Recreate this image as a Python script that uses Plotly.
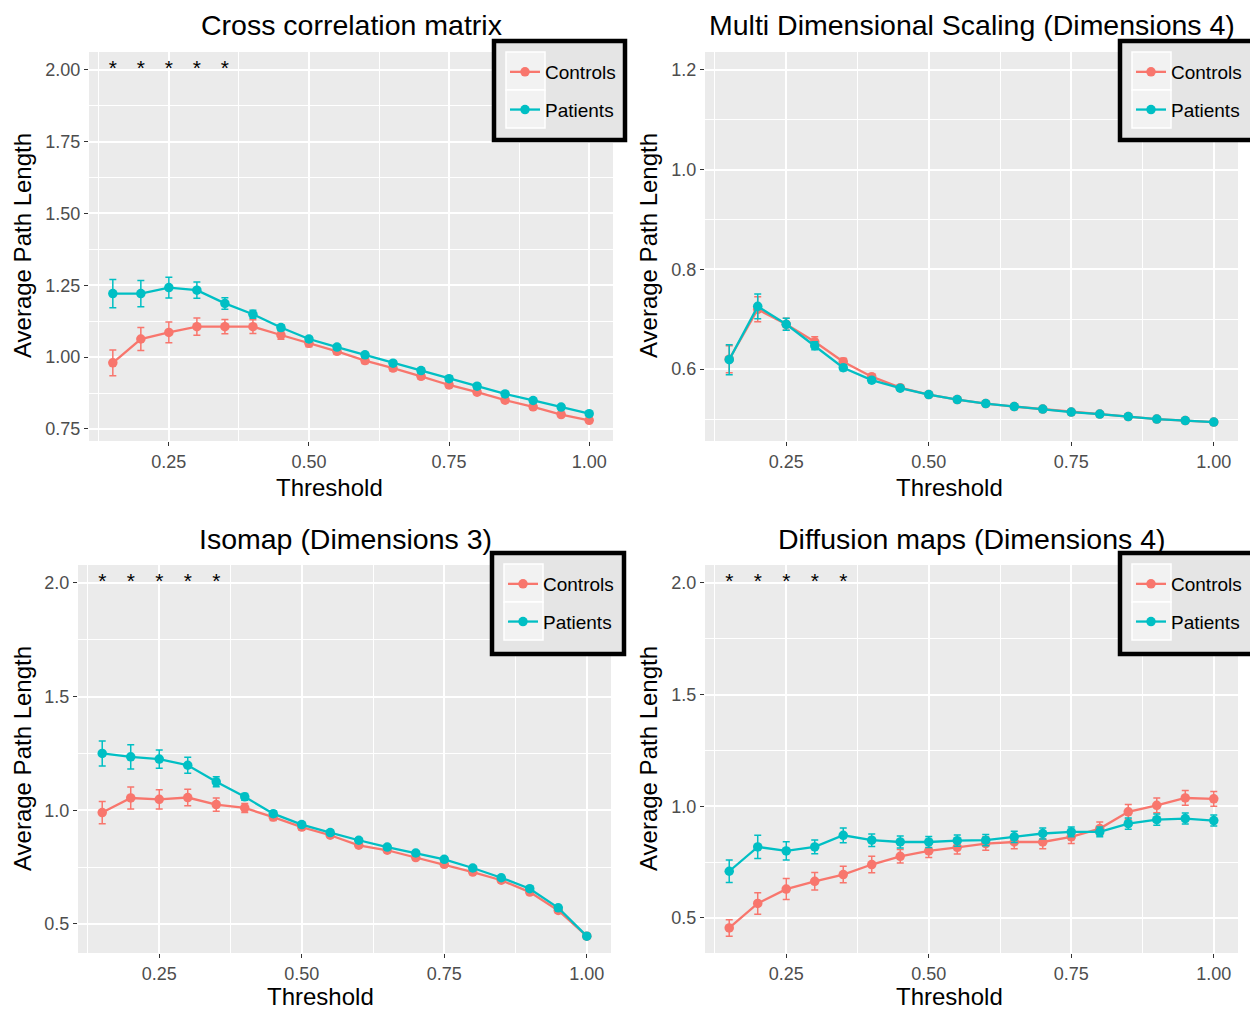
import plotly.graph_objects as go

thresholds = [0.15, 0.20, 0.25, 0.30, 0.35, 0.40, 0.45, 0.50, 0.55, 0.60,
              0.65, 0.70, 0.75, 0.80, 0.85, 0.90, 0.95, 1.00]

# Panel 1: Cross correlation matrix
cc_controls = [0.98, 1.063, 1.086, 1.106, 1.106, 1.106, 1.077, 1.048, 1.02, 0.988,
               0.962, 0.933, 0.903, 0.878, 0.85, 0.827, 0.80, 0.78]
cc_controls_err = [0.045, 0.04, 0.036, 0.03, 0.025, 0.024, 0.015, 0.012, 0.01, 0.01,
                   0.01, 0.009, 0.009, 0.008, 0.008, 0.008, 0.007, 0.007]
cc_patients = [1.221, 1.221, 1.242, 1.233, 1.187, 1.149, 1.103, 1.063, 1.035, 1.008,
               0.979, 0.953, 0.925, 0.899, 0.872, 0.849, 0.826, 0.803]
cc_patients_err = [0.049, 0.046, 0.036, 0.028, 0.02, 0.014, 0.01, 0.009, 0.008, 0.008,
                   0.008, 0.008, 0.008, 0.008, 0.007, 0.007, 0.007, 0.007]

# Panel 2: Multi Dimensional Scaling (Dimensions 4)
mds_controls = [0.62, 0.72, 0.69, 0.655, 0.615, 0.585, 0.563, 0.549, 0.539, 0.531,
                0.525, 0.52, 0.514, 0.51, 0.505, 0.50, 0.497, 0.494]
mds_controls_err = [0.027, 0.025, 0.012, 0.01, 0.007, 0.005, 0.004, 0.004, 0.004, 0.004,
                    0.004, 0.004, 0.004, 0.004, 0.004, 0.004, 0.004, 0.004]
mds_patients = [0.619, 0.726, 0.69, 0.647, 0.603, 0.578, 0.562, 0.549, 0.539, 0.531,
                0.525, 0.52, 0.514, 0.51, 0.505, 0.50, 0.497, 0.494]
mds_patients_err = [0.03, 0.025, 0.012, 0.008, 0.006, 0.005, 0.004, 0.004, 0.004, 0.004,
                    0.004, 0.004, 0.004, 0.004, 0.004, 0.004, 0.004, 0.004]

# Panel 3: Isomap (Dimensions 3)
iso_controls = [0.99, 1.054, 1.048, 1.056, 1.025, 1.01, 0.97, 0.926, 0.89, 0.846,
                0.824, 0.792, 0.762, 0.728, 0.692, 0.64, 0.559, 0.446]
iso_controls_err = [0.049, 0.048, 0.042, 0.036, 0.029, 0.02, 0.015, 0.012, 0.01, 0.01,
                    0.01, 0.01, 0.01, 0.01, 0.01, 0.01, 0.01, 0.008]
iso_patients = [1.25, 1.235, 1.225, 1.198, 1.125, 1.059, 0.985, 0.937, 0.902, 0.868,
                0.838, 0.812, 0.784, 0.746, 0.703, 0.655, 0.571, 0.446]
iso_patients_err = [0.055, 0.053, 0.04, 0.035, 0.022, 0.015, 0.012, 0.01, 0.01, 0.01,
                    0.01, 0.01, 0.01, 0.01, 0.01, 0.01, 0.01, 0.008]

# Panel 4: Diffusion maps (Dimensions 4)
dm_controls = [0.455, 0.565, 0.629, 0.664, 0.694, 0.739, 0.776, 0.8, 0.816, 0.833,
               0.84, 0.84, 0.863, 0.9, 0.975, 1.004, 1.037, 1.033]
dm_controls_err = [0.037, 0.048, 0.047, 0.039, 0.037, 0.037, 0.03, 0.03, 0.03, 0.03,
                   0.03, 0.03, 0.03, 0.03, 0.033, 0.033, 0.033, 0.033]
dm_patients = [0.709, 0.818, 0.8, 0.818, 0.87, 0.848, 0.84, 0.84, 0.846, 0.848,
               0.863, 0.878, 0.885, 0.885, 0.922, 0.94, 0.945, 0.936]
dm_patients_err = [0.05, 0.052, 0.041, 0.031, 0.033, 0.028, 0.027, 0.025, 0.025, 0.025,
                   0.025, 0.025, 0.022, 0.022, 0.025, 0.025, 0.025, 0.025]

star_x = [0.15, 0.20, 0.25, 0.30, 0.35]
star_y = [2.0, 2.0, 2.0, 2.0, 2.0]

titles = ["Cross correlation matrix", "Multi Dimensional Scaling (Dimensions 4)",
          "Isomap (Dimensions 3)", "Diffusion maps (Dimensions 4)"]
series_names = ["Controls", "Patients"]

C_RED = "#F8766D"
C_CYAN = "#00BFC4"
W, H = 1250, 1012
FONT = "Liberation Sans, Arial, sans-serif"

panels = [
    dict(c=cc_controls, ce=cc_controls_err, p=cc_patients, pe=cc_patients_err, stars=True,
         px=(89, 613), py=(52, 441), yr=[0.708, 2.062], dtick=0.25, fmt=".2f",
         title_xy=(351, 25), xt_x=329, xt_bottom=503, yt_xy=(22, 246), leg=(494, 41, 625, 140)),
    dict(c=mds_controls, ce=mds_controls_err, p=mds_patients, pe=mds_patients_err, stars=False,
         px=(705, 1238), py=(52, 441), yr=[0.456, 1.236], dtick=0.2, fmt=".1f",
         title_xy=(972, 25), xt_x=949, xt_bottom=503, yt_xy=(648, 246), leg=(1120, 41, 1262, 140)),
    dict(c=iso_controls, ce=iso_controls_err, p=iso_patients, pe=iso_patients_err, stars=True,
         px=(78, 611), py=(565, 953), yr=[0.372, 2.079], dtick=0.5, fmt=".1f",
         title_xy=(345, 539), xt_x=321, xt_bottom=1012, yt_xy=(22, 759), leg=(492, 553, 624, 654)),
    dict(c=dm_controls, ce=dm_controls_err, p=dm_patients, pe=dm_patients_err, stars=True,
         px=(705, 1238), py=(565, 953), yr=[0.343, 2.08], dtick=0.5, fmt=".1f",
         title_xy=(972, 539), xt_x=949, xt_bottom=1012, yt_xy=(648, 759), leg=(1120, 553, 1262, 654)),
]

fig = go.Figure()
layout = dict(
    width=W, height=H,
    margin=dict(l=0, r=0, t=0, b=0, autoexpand=False),
    paper_bgcolor="white", plot_bgcolor="#EBEBEB",
    font=dict(family=FONT, color="black"),
    annotations=[], shapes=[],
)


def px2x(v):
    return v / W


def px2y(v):
    return 1 - v / H


for i, pnl in enumerate(panels, start=1):
    sfx = "" if i == 1 else str(i)
    xa, ya = "x" + sfx, "y" + sfx
    legname = "legend" + sfx
    for name, vals, errs, col in [(series_names[0], pnl["c"], pnl["ce"], C_RED),
                                  (series_names[1], pnl["p"], pnl["pe"], C_CYAN)]:
        fig.add_trace(go.Scatter(
            x=thresholds, y=vals, name=name, mode="lines+markers",
            xaxis=xa, yaxis=ya, legend=legname, legendgroup=f"{name}{i}",
            line=dict(color=col, width=2.3),
            marker=dict(color=col, size=9.5),
            error_y=dict(type="data", array=errs, visible=True, color=col,
                         thickness=1.5, width=3.5),
        ))
    if pnl["stars"]:
        fig.add_trace(go.Scatter(
            x=star_x, y=star_y, mode="text", text=["*"] * len(star_x),
            textposition="middle center", textfont=dict(size=21, color="black", family=FONT),
            xaxis=xa, yaxis=ya, showlegend=False, hoverinfo="skip",
        ))
    x0, x1 = pnl["px"]
    y0, y1 = pnl["py"]
    axis_common = dict(
        showgrid=True, gridcolor="white", gridwidth=1.7, zeroline=False,
        showline=False, ticks="outside", ticklen=4, tickwidth=1.4, tickcolor="#333333",
        tickfont=dict(size=18, color="#4D4D4D", family=FONT),
        fixedrange=True,
    )
    layout["xaxis" + sfx] = dict(
        axis_common, domain=[x0 / W, x1 / W], range=[0.1075, 1.0425],
        anchor=ya, tick0=0.25, dtick=0.25, tickformat=".2f",
        minor=dict(showgrid=True, gridcolor="white", gridwidth=0.8, tick0=0.125, dtick=0.125),
    )
    layout["yaxis" + sfx] = dict(
        axis_common, domain=[1 - y1 / H, 1 - y0 / H], range=pnl["yr"],
        anchor=xa, tick0=0, dtick=pnl["dtick"], tickformat=pnl["fmt"],
        minor=dict(showgrid=True, gridcolor="white", gridwidth=0.8,
                   tick0=pnl["dtick"] / 2, dtick=pnl["dtick"]),
    )
    # legend frame (ggplot-style box) and key backgrounds
    lx0, ly0, lx1, ly1 = pnl["leg"]
    layout["shapes"].append(dict(
        type="rect", xref="paper", yref="paper", layer="above",
        x0=px2x(lx0), x1=px2x(lx1), y0=px2y(ly0), y1=px2y(ly1),
        fillcolor="#E5E5E5", line=dict(color="black", width=4.5)))
    for k in range(2):
        ky0 = ly0 + 11 + 38 * k
        layout["shapes"].append(dict(
            type="rect", xref="paper", yref="paper", layer="above",
            x0=px2x(lx0 + 12), x1=px2x(lx0 + 51), y0=px2y(ky0), y1=px2y(ky0 + 38),
            fillcolor="#F2F2F2", line=dict(color="white", width=1.5)))
    layout[legname] = dict(
        x=px2x(lx0 + 11), y=px2y(ly0 + 12), xanchor="left", yanchor="top",
        xref="paper", yref="paper",
        bgcolor="rgba(0,0,0,0)", borderwidth=0,
        font=dict(size=19, color="black", family=FONT),
        tracegroupgap=10, itemwidth=30,
    )
    tx, ty = pnl["title_xy"]
    layout["annotations"].append(dict(
        text=titles[i - 1], x=tx / W, y=1 - ty / H, xref="paper", yref="paper",
        xanchor="center", yanchor="middle", showarrow=False,
        font=dict(size=28.5, color="black", family=FONT)))
    layout["annotations"].append(dict(
        text="Threshold", x=pnl["xt_x"] / W, y=px2y(pnl["xt_bottom"]), xref="paper", yref="paper",
        xanchor="center", yanchor="bottom", showarrow=False,
        font=dict(size=24, color="black", family=FONT)))
    tx, ty = pnl["yt_xy"]
    layout["annotations"].append(dict(
        text="Average Path Length", x=tx / W, y=1 - ty / H, xref="paper", yref="paper",
        xanchor="center", yanchor="middle", showarrow=False, textangle=-90,
        font=dict(size=24, color="black", family=FONT)))

fig.update_layout(**layout)
fig.write_html("out.html")
